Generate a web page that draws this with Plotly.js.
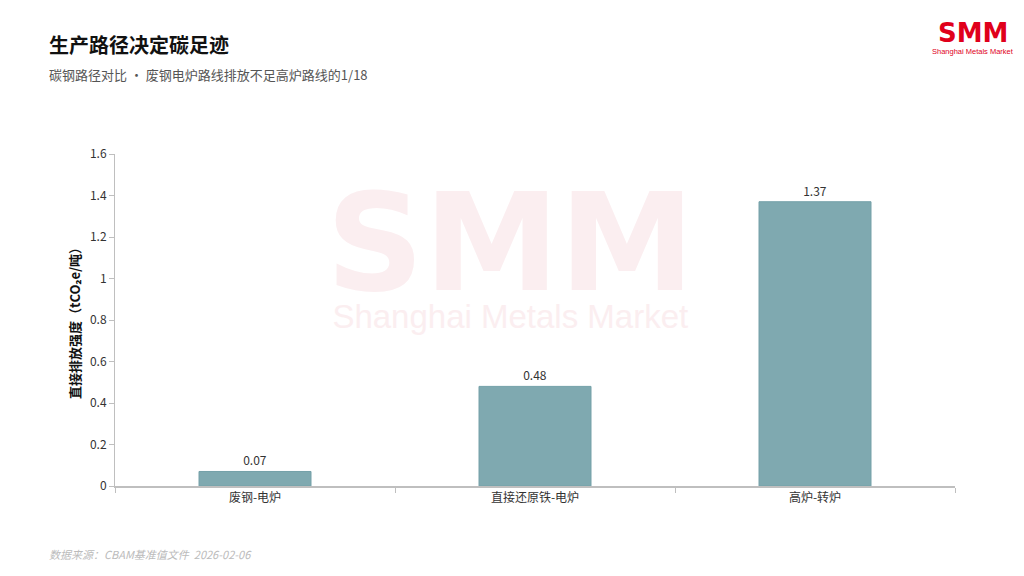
<!DOCTYPE html>
<html>
<head>
<meta charset="utf-8">
<script src="https://cdn.plot.ly/plotly-3.0.1.min.js"></script>
<style>
html,body{margin:0;padding:0;background:#fff;}
#chart{width:1024px;height:576px;}
</style>
</head>
<body>
<div id="chart"></div>
<script>
const categories = ["废钢-电炉", "直接还原铁-电炉", "高炉-转炉"];
const values = [0.07, 0.48, 1.37];
const valueLabels = ["0.07", "0.48", "1.37"];
const yTicks = [0, 0.2, 0.4, 0.6, 0.8, 1, 1.2, 1.4, 1.6];
const yTickLabels = ["0", "0.2", "0.4", "0.6", "0.8", "1", "1.2", "1.4", "1.6"];

const FONT = "'Noto Sans CJK SC', 'Noto Sans', sans-serif";

const trace = {
  type: "bar",
  x: categories,
  y: values,
  text: valueLabels,
  textposition: "outside",
  cliponaxis: false,
  textfont: {family: FONT, size: 12, color: "#333333"},
  marker: {color: "#7FA9B0", line: {color: "#74A0A8", width: 1}},
  width: 0.4,
  hoverinfo: "skip"
};

const layout = {
  width: 1024,
  height: 576,
  margin: {l: 115, r: 69, t: 154, b: 90},
  paper_bgcolor: "#ffffff",
  plot_bgcolor: "rgba(0,0,0,0)",
  showlegend: false,
  font: {family: FONT, color: "#333333", size: 12},
  xaxis: {
    type: "category",
    showline: true,
    linecolor: "#BFBFBF",
    linewidth: 2,
    ticks: "outside",
    tickson: "boundaries",
    ticklen: 5,
    tickcolor: "#BFBFBF",
    tickfont: {family: FONT, size: 12, color: "#333333"},
    showgrid: false,
    zeroline: false,
    fixedrange: true
  },
  yaxis: {
    range: [0, 1.6],
    tickvals: yTicks,
    ticktext: yTickLabels,
    showline: true,
    linecolor: "#BFBFBF",
    linewidth: 1,
    ticks: "outside",
    ticklen: 5,
    tickcolor: "#BFBFBF",
    tickfont: {family: FONT, size: 12, color: "#333333"},
    showgrid: false,
    zeroline: false,
    title: {text: "直接排放强度（tCO₂e/吨）", font: {family: FONT, size: 13, color: "#111111", weight: "bold"}, standoff: 6},
    fixedrange: true
  },
  annotations: [
    {text: "<span style='font-size:136px'><b>SMM</b></span><br><span style='font-size:33px;font-family:Liberation Sans'>Shanghai Metals Market</span>",
     xref: "paper", yref: "paper", x: 0.471, y: 0.976, xanchor: "center", yanchor: "top",
     showarrow: false, font: {family: "'DejaVu Sans', sans-serif", size: 29, color: "#FBEEF0"}},
    {text: "<b>生产路径决定碳足迹</b>", xref: "paper", yref: "paper", x: -0.065, y: 1.0, xanchor: "left", yanchor: "middle",
     yshift: 110, xshift: -13, showarrow: false, font: {family: FONT, size: 20, color: "#111111"}},
    {text: "碳钢路径对比 · 废钢电炉路线排放不足高炉路线的1/18", xref: "paper", yref: "paper", x: -0.065, y: 1.0, xanchor: "left", yanchor: "middle",
     yshift: 80, xshift: -13, showarrow: false, font: {family: FONT, size: 13, color: "#555555"}},
    {text: "<i>数据来源：CBAM基准值文件  2026-02-06</i>", xref: "paper", yref: "paper", x: -0.065, y: 0, xanchor: "left", yanchor: "middle",
     yshift: -68, xshift: -13, showarrow: false, font: {family: FONT, size: 11, color: "#BBBBBB"}},
    {text: "<b>SMM</b>", xref: "paper", yref: "paper", x: 1, y: 1, xanchor: "center", yanchor: "middle",
     xshift: 18, yshift: 121, showarrow: false, font: {family: "'DejaVu Sans', sans-serif", size: 26, color: "#E0001B"}},
    {text: "Shanghai Metals Market", xref: "paper", yref: "paper", x: 1, y: 1, xanchor: "center", yanchor: "middle",
     xshift: 18, yshift: 103, showarrow: false, font: {family: "'Liberation Sans', sans-serif", size: 7.5, color: "#E0001B"}}
  ]
};

Plotly.newPlot("chart", [trace], layout, {staticPlot: true, displayModeBar: false});
</script>
</body>
</html>
